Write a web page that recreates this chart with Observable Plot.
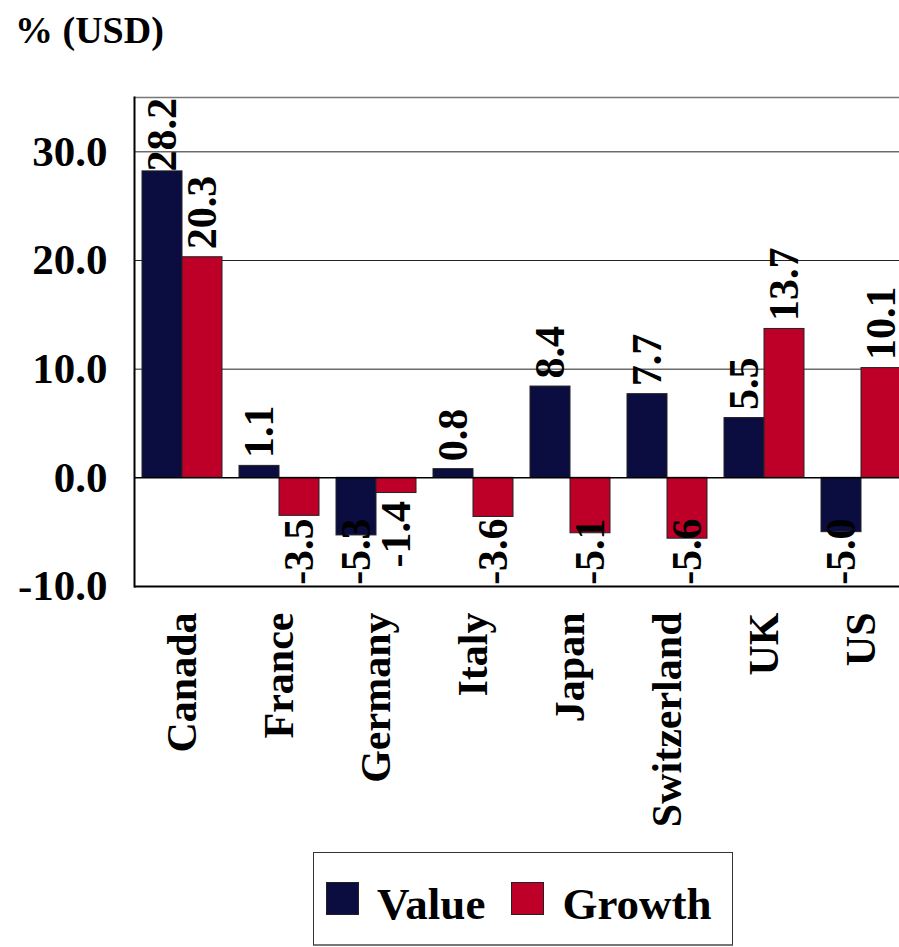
<!DOCTYPE html>
<html>
<head>
<meta charset="utf-8">
<script src="https://cdn.jsdelivr.net/npm/d3@7"></script>
<script src="https://cdn.jsdelivr.net/npm/@observablehq/plot@0.6"></script>
<style>
  html, body { margin: 0; padding: 0; background: #fff; overflow: hidden; width: 899px; height: 947px; }
  #wrap { position: relative; width: 899px; height: 947px; overflow: hidden; font-family: "Liberation Serif", serif; font-weight: bold; color: #000; }
  #title { position: absolute; left: 15px; top: 11px; font-size: 38px; line-height: 1; white-space: nowrap; }
  #chart { position: absolute; left: 0; top: 0; width: 912px; }
  #chart svg { max-width: none !important; }
  #legend { position: absolute; left: 313px; top: 852px; width: 418px; height: 91px; border: 1px solid #333; border-bottom: 2px solid #777; display: flex; align-items: center; font-size: 45px; }
  .sw { width: 33px; height: 33px; border: 1px solid #222; box-sizing: border-box; flex: none; }
  .lab { line-height: 1; margin-top: 12px; }
</style>
</head>
<body>
<div id="wrap">
  <div id="chart"></div>
  <div id="title">% (USD)</div>
  <div id="legend"></div>
</div>
<script>
// ---- data ----
const countries = ["Canada", "France", "Germany", "Italy", "Japan", "Switzerland", "UK", "US"];
const valueSeries = [28.2, 1.1, -5.3, 0.8, 8.4, 7.7, 5.5, -5.0];
const growthSeries = [20.3, -3.5, -1.4, -3.6, -5.1, -5.6, 13.7, 10.1];
const seriesNames = ["Value", "Growth"];
const seriesColors = ["#0b0c3f", "#be0028"];
const yTicks = [-10, 0, 10, 20, 30];
const gridTicks = [10, 20, 30];
const yDomain = [-10, 35];

// ---- layout ----
const W = 912, H = 850, mT = 97, mB = 264, mL = 134, mR = 2;
const pxPerUnit = (H - mT - mB) / (yDomain[1] - yDomain[0]);
const labelFont = "bold 42px 'Liberation Serif'";
const ctx = document.createElement("canvas").getContext("2d");
ctx.font = labelFont;
const gap = 8 / pxPerUnit;

function labelY(v, txt) {
  const L = ctx.measureText(txt).width / pxPerUnit;
  return v >= 0 ? Math.min(v + gap, yDomain[1] - L - 0.05) : Math.max(v - gap - L, yDomain[0] + 0.15);
}
function rows(vals, series) {
  return countries.map((c, i) => {
    const label = vals[i].toFixed(1);
    return {country: c, series, value: vals[i], label, ly: labelY(vals[i], label)};
  });
}
const valueRows = rows(valueSeries, seriesNames[0]);
const growthRows = rows(growthSeries, seriesNames[1]);

const half = 40;

const chart = Plot.plot({
  width: W, height: H,
  marginTop: mT, marginBottom: mB, marginLeft: mL, marginRight: mR,
  style: {fontFamily: "Liberation Serif, serif", fontWeight: "bold", color: "#000", background: "transparent", overflow: "visible", maxWidth: "none"},
  x: {domain: countries, paddingInner: 0.175, paddingOuter: 0.0875, align: 0.5},
  y: {domain: yDomain},
  marks: [
    Plot.ruleY(gridTicks, {stroke: "#222", strokeWidth: 1}),
    Plot.ruleY([yDomain[1]], {stroke: "#777", strokeWidth: 1.5}),
    Plot.barY(valueRows, {x: "country", y: "value", fill: seriesColors[0], stroke: "#222", strokeWidth: 1, insetRight: half}),
    Plot.barY(growthRows, {x: "country", y: "value", fill: seriesColors[1], stroke: "#222", strokeWidth: 1, insetLeft: half}),
    Plot.ruleY([0], {stroke: "#000", strokeWidth: 1.5}),
    Plot.ruleY([yDomain[0]], {stroke: "#000", strokeWidth: 2}),
    Plot.frame({anchor: "left", stroke: "#000", strokeWidth: 2}),
    Plot.text(valueRows, {x: "country", y: "ly", text: "label", rotate: -90, textAnchor: "start", dx: -half / 2, fontSize: 42, fontWeight: "bold", fill: "#000"}),
    Plot.text(growthRows, {x: "country", y: "ly", text: "label", rotate: -90, textAnchor: "start", dx: half / 2, fontSize: 42, fontWeight: "bold", fill: "#000"}),
    Plot.axisY({ticks: yTicks, tickFormat: d => d.toFixed(1), tickSize: 0, tickPadding: 27, fontSize: 43, fontWeight: "bold", label: null}),
    Plot.axisX({tickRotate: -90, tickSize: 0, tickPadding: 26, fontSize: 42, fontWeight: "bold", label: null})
  ]
});
document.getElementById("chart").appendChild(chart);

// ---- legend ----
const legend = document.getElementById("legend");
seriesNames.forEach((name, i) => {
  const sw = document.createElement("div");
  sw.className = "sw";
  sw.style.background = seriesColors[i];
  sw.style.marginLeft = i === 0 ? "12px" : "26px";
  sw.style.marginRight = "18px";
  legend.appendChild(sw);
  const t = document.createElement("span");
  t.className = "lab";
  t.textContent = name;
  legend.appendChild(t);
});
</script>
</body>
</html>
